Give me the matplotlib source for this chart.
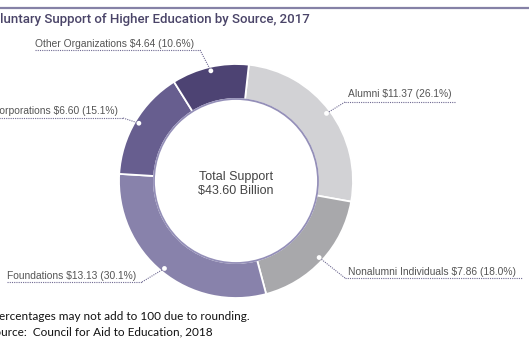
import numpy as np
import matplotlib
matplotlib.use("Agg")
import matplotlib.pyplot as plt
from matplotlib.patches import Circle

# ---- data ----
categories = ["Alumni", "Nonalumni Individuals", "Foundations", "Corporations", "Other Organizations"]
values = [11.37, 7.86, 13.13, 6.60, 4.64]
percents = [26.1, 18.0, 30.1, 15.1, 10.6]
total = 43.60
colors = ["#d2d2d5", "#a8a8ab", "#8882ab", "#675e8f", "#4d4373"]

title = "Voluntary Support of Higher Education by Source, 2017"
notes = ["Percentages may not add to 100 due to rounding.",
         "Source:  Council for Aid to Education, 2018"]

W, H = 529, 353
fig = plt.figure(figsize=(W / 100, H / 100), dpi=100)
ax = fig.add_axes([0, 0, 1, 1])


def P(x, y):
    return x, H - y


cx, cy = P(236, 181)
R = 117
width = 35

wedges, _ = ax.pie(values, colors=colors, startangle=83.7, counterclock=False,
                   center=(cx, cy), radius=R, frame=True,
                   wedgeprops=dict(width=width, edgecolor="white", linewidth=1.3))
ax.set_xlim(0, W)
ax.set_ylim(0, H)
ax.set_aspect("equal")
ax.axis("off")

# inner outline
ax.add_patch(Circle((cx, cy), R - width, fill=False, edgecolor="#948fb8", lw=1.3, zorder=3))

# label layout: (text x, text y, ha, underline x0, x1, underline y, elbow x)
layout = {
    "Alumni": (348, 94, "left", 345, 456, 102, 345),
    "Nonalumni Individuals": (348, 272, "left", 345, 522, 278, 345),
    "Foundations": (7, 276, "left", 7, 142, 282, 142),
    "Corporations": (118, 111, "right", -5, 123, 118, 123),
    "Other Organizations": (35, 44, "left", 35, 200, 50, 200),
}

lead_col = "#6f6a92"
for w, cat, v, p in zip(wedges, categories, values, percents):
    mid = np.deg2rad((w.theta1 + w.theta2) / 2)
    r = R - 4
    dx, dy = cx + r * np.cos(mid), cy + r * np.sin(mid)
    tx, ty, ha, ux0, ux1, uy, ex = layout[cat]
    ax.text(*P(tx, ty), f"{cat} ${v:.2f} ({p:.1f}%)", ha=ha, va="center",
            fontsize=7.4, color="#555555", family="Liberation Sans")
    ax.plot([ux0, ux1], [H - uy, H - uy], color=lead_col, lw=0.8, ls=(0, (1, 1)), zorder=4)
    ax.plot([ex, dx], [H - uy, dy], color=lead_col, lw=0.8, ls=(0, (1, 1)), zorder=4)
    ax.add_patch(Circle((dx, dy), 2.4, facecolor="white", edgecolor="none", zorder=5))

# centre text
ax.text(cx, H - 184, f"Total Support\n${total:.2f} Billion", ha="center", va="center",
        fontsize=9, color="#444444", family="Liberation Sans", linespacing=1.15)

# title and top rule
ax.plot([0, W], [H - 8, H - 8], color="#8581a6", lw=1.6)
ax.text(*P(310, 20), title, ha="right", va="center", fontsize=9.55,
        color="#4a4468", family="Roboto", weight="medium")

# footnotes
ax.text(*P(250, 317), notes[0], ha="right", va="center", fontsize=8.5, color="#111111", family="Lato")
ax.text(*P(213, 332), notes[1], ha="right", va="center", fontsize=8.5, color="#111111", family="Lato")

fig.savefig("out.png", dpi=100, facecolor="white")
